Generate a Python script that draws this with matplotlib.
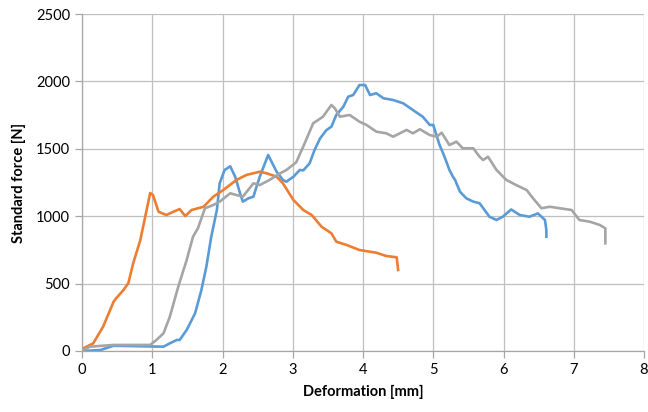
import matplotlib
matplotlib.use('Agg')
import matplotlib.pyplot as plt

plt.rcParams['font.family'] = ['Lato', 'DejaVu Sans']

# sample 1 (blue)
blue_x = [0, 0.26, 0.45, 1.16, 1.25, 1.35, 1.39, 1.49, 1.61, 1.70, 1.77, 1.84, 1.92, 1.96,
          2.03, 2.11, 2.18, 2.25, 2.29, 2.37, 2.44, 2.53, 2.65, 2.77, 2.86, 2.91, 2.96, 3.01,
          3.10, 3.15, 3.24, 3.31, 3.39, 3.48, 3.55, 3.62, 3.72, 3.79, 3.86, 3.95, 4.03, 4.10,
          4.19, 4.29, 4.43, 4.57, 4.71, 4.85, 4.95, 5.00, 5.09, 5.14, 5.19, 5.23, 5.28, 5.31,
          5.38, 5.47, 5.57, 5.66, 5.80, 5.90, 5.99, 6.11, 6.23, 6.37, 6.49, 6.59, 6.61, 6.61]
blue_y = [0, 7, 39, 32, 57, 82, 82, 156, 280, 453, 625, 848, 1046, 1244,
          1343, 1370, 1293, 1170, 1108, 1133, 1145, 1293, 1454, 1330, 1269, 1256, 1275, 1293,
          1343, 1340, 1392, 1491, 1578, 1639, 1664, 1751, 1812, 1887, 1899, 1973, 1973, 1899,
          1912, 1875, 1862, 1838, 1788, 1738, 1677, 1677, 1528, 1467, 1400, 1343, 1293, 1270,
          1182, 1133, 1108, 1096, 996, 972, 996, 1050, 1009, 996, 1021, 972, 898, 848]

# sample 2 (orange)
orange_x = [0, 0.02, 0.16, 0.30, 0.45, 0.49, 0.59, 0.66, 0.73, 0.83, 0.92, 0.97, 1.01,
            1.09, 1.20, 1.30, 1.39, 1.47, 1.56, 1.73, 1.87, 2.01, 2.20, 2.34, 2.53, 2.63,
            2.77, 2.86, 3.01, 3.15, 3.27, 3.41, 3.55, 3.62, 3.77, 3.95, 4.19, 4.33, 4.48, 4.50]
orange_y = [0, 20, 57, 180, 366, 393, 452, 504, 653, 823, 1046, 1172, 1157,
            1033, 1009, 1033, 1053, 1001, 1046, 1070, 1145, 1194, 1269, 1306, 1330, 1318,
            1293, 1244, 1120, 1046, 1009, 922, 873, 811, 786, 749, 729, 705, 695, 601]

# sample 3 (gray)
gray_x = [0, 0.11, 0.45, 0.97, 1.06, 1.16, 1.25, 1.37, 1.49, 1.58, 1.65, 1.75, 1.87, 1.96,
          2.11, 2.20, 2.29, 2.44, 2.53, 2.67, 2.82, 2.91, 3.05, 3.17, 3.29, 3.43, 3.55, 3.60,
          3.67, 3.81, 3.95, 4.05, 4.19, 4.33, 4.43, 4.62, 4.71, 4.81, 4.95, 5.05, 5.12, 5.23,
          5.33, 5.42, 5.57, 5.66, 5.71, 5.78, 5.90, 6.04, 6.18, 6.33, 6.42, 6.54, 6.66, 6.80,
          6.97, 7.08, 7.23, 7.37, 7.45, 7.45]
gray_y = [0, 32, 45, 45, 82, 131, 254, 477, 675, 848, 910, 1059, 1083, 1108,
          1170, 1157, 1145, 1244, 1231, 1269, 1318, 1343, 1400, 1541, 1689, 1738, 1825, 1800,
          1738, 1751, 1701, 1677, 1627, 1615, 1590, 1640, 1615, 1645, 1602, 1590, 1619, 1528,
          1553, 1504, 1504, 1441, 1417, 1441, 1343, 1269, 1231, 1194, 1133, 1059, 1070, 1059,
          1046, 972, 959, 935, 910, 799]

x_ticks = [0, 1, 2, 3, 4, 5, 6, 7, 8]
y_ticks = [0, 500, 1000, 1500, 2000, 2500]

fig = plt.figure(figsize=(6.48, 4.12), dpi=100)
ax = fig.add_axes([82 / 648, 1 - 351 / 412, 562 / 648, 337 / 412])

ax.plot(blue_x, blue_y, color='#5B9BD5', lw=1.9)
ax.plot(orange_x, orange_y, color='#ED7D31', lw=1.9)
ax.plot(gray_x, gray_y, color='#A5A5A5', lw=1.9)

ax.set_xlim(0, 8)
ax.set_ylim(0, 2500)
ax.set_xticks(x_ticks)
ax.set_yticks(y_ticks)
ax.grid(True, color='#BFBFBF', lw=0.9)
ax.set_axisbelow(True)
for side in ['top', 'right']:
    ax.spines[side].set_visible(False)
for side in ['left', 'bottom']:
    ax.spines[side].set_color('#A6A6A6')
    ax.spines[side].set_linewidth(0.9)
ax.tick_params(colors='#A6A6A6', labelcolor='#000000', labelsize=10.5, length=5, width=0.9)

ax.set_xlabel('Deformation [mm]', fontsize=10.5, fontweight='bold', labelpad=6)
ax.set_ylabel('Standard force [N]', fontsize=10.5, fontweight='bold', labelpad=7)

fig.savefig('out.png', dpi=100)
